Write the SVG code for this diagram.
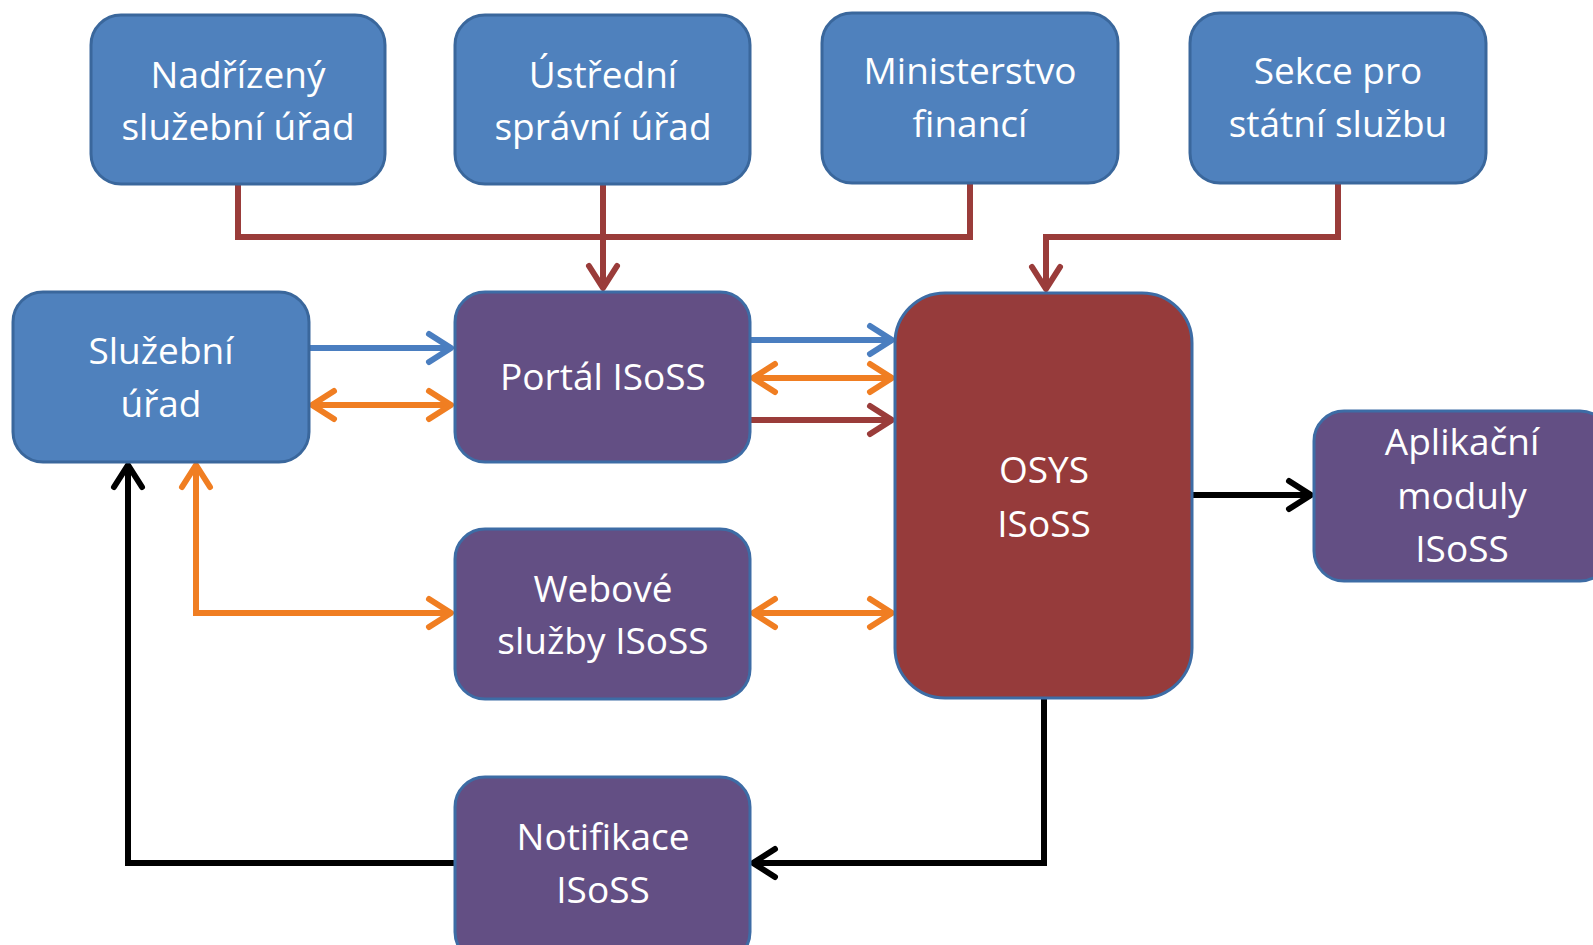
<svg xmlns="http://www.w3.org/2000/svg" width="1593" height="945" viewBox="0 0 1593 945">
<style>
.blue{fill:#4F81BD;stroke:#3A679C;stroke-width:3}
.purple{fill:#634F84;stroke:#3D6CA5;stroke-width:3}
.red{fill:#963B3B;stroke:#3D6CA5;stroke-width:3}
text{font-family:"Open Sans","DejaVu Sans",sans-serif;font-size:37px;fill:#FFFFFF;text-anchor:middle}
.c{fill:none;stroke-width:6;stroke-linejoin:miter}
.cr{stroke:#9A3C3A}.cb{stroke:#4A7EC0}.co{stroke:#F07E22}.ck{stroke:#000}
</style>
<defs>
<marker id="aR" markerUnits="userSpaceOnUse" viewBox="0 0 30 34" refX="27" refY="17" markerWidth="30" markerHeight="34" orient="auto-start-reverse" overflow="visible"><path d="M4,3 L26,17 L4,31" fill="none" stroke="#9A3C3A" stroke-width="6" stroke-linecap="round" stroke-linejoin="round"/></marker>
<marker id="aB" markerUnits="userSpaceOnUse" viewBox="0 0 30 34" refX="27" refY="17" markerWidth="30" markerHeight="34" orient="auto-start-reverse" overflow="visible"><path d="M4,3 L26,17 L4,31" fill="none" stroke="#4A7EC0" stroke-width="6" stroke-linecap="round" stroke-linejoin="round"/></marker>
<marker id="aO" markerUnits="userSpaceOnUse" viewBox="0 0 30 34" refX="27" refY="17" markerWidth="30" markerHeight="34" orient="auto-start-reverse" overflow="visible"><path d="M4,3 L26,17 L4,31" fill="none" stroke="#F07E22" stroke-width="6" stroke-linecap="round" stroke-linejoin="round"/></marker>
<marker id="aK" markerUnits="userSpaceOnUse" viewBox="0 0 30 34" refX="27" refY="17" markerWidth="30" markerHeight="34" orient="auto-start-reverse" overflow="visible"><path d="M4,3 L26,17 L4,31" fill="none" stroke="#000" stroke-width="6" stroke-linecap="round" stroke-linejoin="round"/></marker>
</defs>
<rect width="1593" height="945" fill="#FFFFFF"/>
<g id="connectors">
<path class="c cr" d="M238,184 V237 H970 V184"/>
<path class="c cr" d="M603,184 V289" marker-end="url(#aR)"/>
<path class="c cr" d="M1338,183 V237 H1046 V290" marker-end="url(#aR)"/>
<path class="c cb" d="M309,348 H452" marker-end="url(#aB)"/>
<path class="c co" d="M311,405 H452" marker-start="url(#aO)" marker-end="url(#aO)"/>
<path class="c cb" d="M750,340 H893" marker-end="url(#aB)"/>
<path class="c co" d="M752,378 H893" marker-start="url(#aO)" marker-end="url(#aO)"/>
<path class="c cr" d="M750,420 H893" marker-end="url(#aR)"/>
<path class="c co" d="M196,464 V613 H452" marker-start="url(#aO)" marker-end="url(#aO)"/>
<path class="c co" d="M752,613 H893" marker-start="url(#aO)" marker-end="url(#aO)"/>
<path class="c ck" d="M1192,495 H1312" marker-end="url(#aK)"/>
<path class="c ck" d="M1044,698 V863 H752" marker-end="url(#aK)"/>
<path class="c ck" d="M454,863 H128 V464" marker-end="url(#aK)"/>
</g>
<g id="nadrizeny">
<rect class="blue" x="91" y="15" width="294" height="169" rx="30"/>
<text x="238" y="88">Nadřízený</text>
<text x="238" y="140">služební úřad</text>
</g>
<g id="ustredni">
<rect class="blue" x="455" y="15" width="295" height="169" rx="30"/>
<text x="603" y="88">Ústřední</text>
<text x="603" y="140">správní úřad</text>
</g>
<g id="ministerstvo">
<rect class="blue" x="822" y="13" width="296" height="170" rx="30"/>
<text x="970" y="84">Ministerstvo</text>
<text x="970" y="137">financí</text>
</g>
<g id="sekce">
<rect class="blue" x="1190" y="13" width="296" height="170" rx="30"/>
<text x="1338" y="84">Sekce pro</text>
<text x="1338" y="137">státní službu</text>
</g>
<g id="sluzebni">
<rect class="blue" x="13" y="292" width="296" height="170" rx="30"/>
<text x="161" y="364">Služební</text>
<text x="161" y="417">úřad</text>
</g>
<g id="portal">
<rect class="purple" x="455" y="292" width="295" height="170" rx="30"/>
<text x="603" y="390">Portál ISoSS</text>
</g>
<g id="osys">
<rect class="red" x="895" y="293" width="297" height="405" rx="50"/>
<text x="1044" y="483">OSYS</text>
<text x="1044" y="537">ISoSS</text>
</g>
<g id="aplikacni">
<rect class="purple" x="1314" y="411" width="296" height="170" rx="30"/>
<text x="1462" y="455">Aplikační</text>
<text x="1462" y="509">moduly</text>
<text x="1462" y="562">ISoSS</text>
</g>
<g id="webove">
<rect class="purple" x="455" y="529" width="295" height="170" rx="30"/>
<text x="603" y="602">Webové</text>
<text x="603" y="654">služby ISoSS</text>
</g>
<g id="notifikace">
<rect class="purple" x="455" y="777" width="295" height="185" rx="30"/>
<text x="603" y="850">Notifikace</text>
<text x="603" y="903">ISoSS</text>
</g>
</svg>
